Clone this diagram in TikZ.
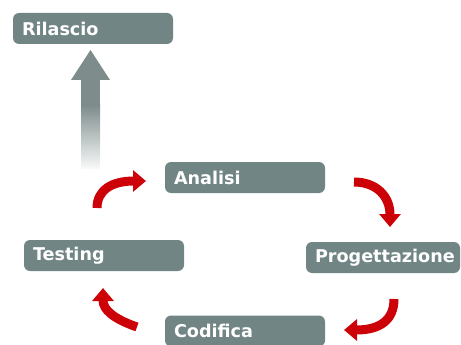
\documentclass[tikz,border=0pt]{standalone}
\usepackage{fontspec}
\setmainfont{DejaVu Sans}
\usetikzlibrary{arrows.meta}
\definecolor{boxgray}{RGB}{113,133,133}
\definecolor{arrowgray}{RGB}{126,140,140}
\definecolor{cyclered}{RGB}{204,2,8}
\begin{document}
\begin{tikzpicture}[x=1pt,y=-1pt,
  phase/.style={fill=boxgray, rounded corners=6pt, text=white,
    font=\fontsize{17.6}{20}\selectfont\bfseries, minimum height=31pt,
    inner ysep=0pt, inner xsep=9pt, align=left, text width=142pt},
  turn/.style={draw=cyclered, line width=9pt,
    -{Triangle[width=21pt,length=13pt]}}]
\useasboundingbox (0,0) rectangle (461,345);
\clip (0,0) rectangle (461,345);

% phases of the cycle
\node[phase] (rilascio) at (93,28.5) {Rilascio};
\node[phase, text width=136pt] (progettazione) at (383,257.5) {Progettazione\hfill};
\node[phase] (analisi) at (245,177.5) {Analisi};
\node[phase] (testing) at (104,255.5) {Testing};
\node[phase] (codifica) at (245,331) {Codifica};

% release arrow, fading out towards its tail
\fill[arrowgray] (71,80) -- (90.5,50) -- (110,80) -- cycle;
\fill[arrowgray] (81,79.5) rectangle (100,106);
\shade[top color=arrowgray, bottom color=arrowgray!6!white] (81,105) rectangle (100,168);

% curved arrows between the phases
\coordinate (t1a) at (97,208);  \coordinate (t1b) at (146,181);
\coordinate (t2a) at (354,182); \coordinate (t2b) at (390,227);
\coordinate (t3a) at (394,299); \coordinate (t3b) at (344,330);
\coordinate (t4a) at (137,327); \coordinate (t4b) at (103,288);
\draw[turn] (t1a) .. controls (97,190) and (112,181) .. (t1b);
\draw[turn] (t2a) .. controls (376,182) and (390,196) .. (t2b);
\draw[turn] (t3a) .. controls (394,320) and (380,330) .. (t3b);
\draw[turn] (t4a) .. controls (114,319) and (103,310) .. (t4b);
\end{tikzpicture}
\end{document}
